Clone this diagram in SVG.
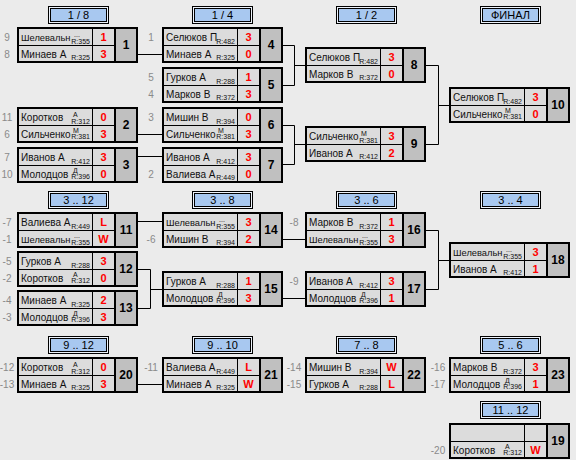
<svg xmlns="http://www.w3.org/2000/svg" width="576" height="460" viewBox="0 0 576 460">
<style>
text{font-family:"Liberation Sans",Arial,sans-serif}
.ob{fill:#000}
.nc{fill:#dcdcdc}
.nb{fill:#c0c0c0}
.nm{font-size:10px;fill:#101010}
.nm2{font-size:9.3px;fill:#101010}
.sm{font-size:7px;fill:#101010}
.rt{font-size:7px;fill:#101010;text-anchor:end}
.scr{font-size:11px;font-weight:bold;fill:#ff0000;text-anchor:middle}
.num{font-size:12px;font-weight:bold;fill:#000;text-anchor:middle}
.sd{font-size:10px;fill:#8a8a8a;text-anchor:middle}
.ho{fill:#eef3fb;stroke:#000;stroke-width:1}
.hi{fill:#a8c8f0;stroke:#000;stroke-width:1}
.ht{font-size:11px;fill:#000;text-anchor:middle}
</style>
<defs>
<g id="box">
<rect class="ob" width="121" height="36"/>
<rect class="nc" x="2" y="2" width="73" height="16"/>
<rect class="nc" x="76" y="2" width="21" height="16"/>
<rect class="nc" x="2" y="19" width="73" height="15"/>
<rect class="nc" x="76" y="19" width="21" height="15"/>
<rect class="nb" x="99" y="2" width="20" height="32"/>
</g>
<g id="hdr">
<rect class="ho" x="0.5" y="0.5" width="60" height="17"/>
<rect class="hi" x="2.5" y="2.5" width="56" height="13"/>
</g>
</defs>
<rect width="576" height="460" fill="#ebebeb"/>

<g id="headers">
<g transform="translate(48,6)"><use href="#hdr"/><text class="ht" x="30.5" y="13">1 / 8</text></g>
<g transform="translate(192,6)"><use href="#hdr"/><text class="ht" x="30.5" y="13">1 / 4</text></g>
<g transform="translate(336,6)"><use href="#hdr"/><text class="ht" x="30.5" y="13">1 / 2</text></g>
<g transform="translate(480,6)"><use href="#hdr"/><text class="ht" x="30.5" y="13">ФИНАЛ</text></g>
<g transform="translate(48,191)"><use href="#hdr"/><text class="ht" x="30.5" y="13">3 .. 12</text></g>
<g transform="translate(192,191)"><use href="#hdr"/><text class="ht" x="30.5" y="13">3 .. 8</text></g>
<g transform="translate(336,191)"><use href="#hdr"/><text class="ht" x="30.5" y="13">3 .. 6</text></g>
<g transform="translate(480,191)"><use href="#hdr"/><text class="ht" x="30.5" y="13">3 .. 4</text></g>
<g transform="translate(48,336)"><use href="#hdr"/><text class="ht" x="30.5" y="13">9 .. 12</text></g>
<g transform="translate(192,336)"><use href="#hdr"/><text class="ht" x="30.5" y="13">9 .. 10</text></g>
<g transform="translate(336,336)"><use href="#hdr"/><text class="ht" x="30.5" y="13">7 .. 8</text></g>
<g transform="translate(480,336)"><use href="#hdr"/><text class="ht" x="30.5" y="13">5 .. 6</text></g>
<g transform="translate(480,401)"><use href="#hdr"/><text class="ht" x="30.5" y="13">11 .. 12</text></g>
</g>

<g id="connectors" stroke="#000" stroke-width="1" fill="none">
<path d="M138 54.5H162"/>
<path d="M138 134.5H162"/>
<path d="M138 156.5H162"/>
<path d="M283 45.5H294.5V85.5H283M294.5 65.5H305"/>
<path d="M283 125.5H294.5V164.5H283M294.5 144.5H305"/>
<path d="M426 65.5H438.5V144.5H426M438.5 105.5H449"/>
<path d="M138 221.5H162"/>
<path d="M138 269.5H150.5V308.5H138M150.5 289.5H162"/>
<path d="M283 239.5H305"/>
<path d="M283 298.5H305"/>
<path d="M426 230.5H438.5V289.5H426M438.5 260.5H449"/>
<path d="M138 384.5H162"/>
</g>

<g id="m1" transform="translate(17,27)"><use href="#box"/>
<text class="sd" x="-10" y="13.5">9</text><text class="sd" x="-10" y="30.5">8</text>
<text class="nm2" x="4" y="14">Шелевальн</text><text class="sm" x="57" y="9.5">...</text><text class="rt" x="73" y="16.5">R:355</text><text class="scr" x="86.5" y="14">1</text>
<text class="nm" x="4" y="31">Минаев А</text><text class="rt" x="73" y="33">R:325</text><text class="scr" x="86.5" y="31">3</text>
<text class="num" x="109" y="22">1</text></g>

<g id="m2" transform="translate(17,107)"><use href="#box"/>
<text class="sd" x="-10" y="13.5">11</text><text class="sd" x="-10" y="30.5">6</text>
<text class="nm" x="4" y="14">Коротков</text><text class="sm" x="56" y="10">А</text><text class="rt" x="73" y="16.5">R:312</text><text class="scr" x="86.5" y="14">0</text>
<text class="nm" x="4" y="31">Сильченко</text><text class="sm" x="56" y="26">М</text><text class="rt" x="73" y="32">R:381</text><text class="scr" x="86.5" y="31">3</text>
<text class="num" x="109" y="22">2</text></g>

<g id="m3" transform="translate(17,147)"><use href="#box"/>
<text class="sd" x="-10" y="13.5">7</text><text class="sd" x="-10" y="30.5">10</text>
<text class="nm" x="4" y="14">Иванов А</text><text class="rt" x="73" y="16.5">R:412</text><text class="scr" x="86.5" y="14">3</text>
<text class="nm" x="4" y="31">Молодцов</text><text class="sm" x="56" y="26">Д</text><text class="rt" x="73" y="32">R:396</text><text class="scr" x="86.5" y="31">0</text>
<text class="num" x="109" y="22">3</text></g>

<g id="m4" transform="translate(162,27)"><use href="#box"/>
<text class="sd" x="-11" y="13.5">1</text>
<text class="nm" x="4" y="14">Селюков П</text><text class="rt" x="73" y="16.5">R:482</text><text class="scr" x="86.5" y="14">3</text>
<text class="nm" x="4" y="31">Минаев А</text><text class="rt" x="73" y="33">R:325</text><text class="scr" x="86.5" y="31">0</text>
<text class="num" x="109" y="22">4</text></g>

<g id="m5" transform="translate(162,67)"><use href="#box"/>
<text class="sd" x="-11" y="13.5">5</text><text class="sd" x="-11" y="30.5">4</text>
<text class="nm" x="4" y="14">Гурков А</text><text class="rt" x="73" y="16.5">R:288</text><text class="scr" x="86.5" y="14">1</text>
<text class="nm" x="4" y="31">Марков В</text><text class="rt" x="73" y="33">R:372</text><text class="scr" x="86.5" y="31">3</text>
<text class="num" x="109" y="22">5</text></g>

<g id="m6" transform="translate(162,107)"><use href="#box"/>
<text class="sd" x="-11" y="13.5">3</text>
<text class="nm" x="4" y="14">Мишин В</text><text class="rt" x="73" y="16.5">R:394</text><text class="scr" x="86.5" y="14">0</text>
<text class="nm" x="4" y="31">Сильченко</text><text class="sm" x="56" y="26">М</text><text class="rt" x="73" y="32">R:381</text><text class="scr" x="86.5" y="31">3</text>
<text class="num" x="109" y="22">6</text></g>

<g id="m7" transform="translate(162,147)"><use href="#box"/>
<text class="sd" x="-11" y="30.5">2</text>
<text class="nm" x="4" y="14">Иванов А</text><text class="rt" x="73" y="16.5">R:412</text><text class="scr" x="86.5" y="14">3</text>
<text class="nm" x="4" y="31">Валиева А</text><text class="rt" x="73" y="33">R:449</text><text class="scr" x="86.5" y="31">0</text>
<text class="num" x="109" y="22">7</text></g>

<g id="m8" transform="translate(305,47)"><use href="#box"/>
<text class="nm" x="4" y="14">Селюков П</text><text class="rt" x="73" y="16.5">R:482</text><text class="scr" x="86.5" y="14">3</text>
<text class="nm" x="4" y="31">Марков В</text><text class="rt" x="73" y="33">R:372</text><text class="scr" x="86.5" y="31">0</text>
<text class="num" x="109" y="22">8</text></g>

<g id="m9" transform="translate(305,126)"><use href="#box"/>
<text class="nm" x="4" y="14">Сильченко</text><text class="sm" x="56" y="10">М</text><text class="rt" x="73" y="16.5">R:381</text><text class="scr" x="86.5" y="14">3</text>
<text class="nm" x="4" y="31">Иванов А</text><text class="rt" x="73" y="33">R:412</text><text class="scr" x="86.5" y="31">2</text>
<text class="num" x="109" y="22">9</text></g>

<g id="m10" transform="translate(449,87)"><use href="#box"/>
<text class="nm" x="4" y="14">Селюков П</text><text class="rt" x="73" y="16.5">R:482</text><text class="scr" x="86.5" y="14">3</text>
<text class="nm" x="4" y="31">Сильченко</text><text class="sm" x="56" y="26">М</text><text class="rt" x="73" y="32">R:381</text><text class="scr" x="86.5" y="31">0</text>
<text class="num" x="109" y="22">10</text></g>

<g id="m11" transform="translate(17,212)"><use href="#box"/>
<text class="sd" x="-10" y="13.5">-7</text><text class="sd" x="-10" y="30.5">-1</text>
<text class="nm" x="4" y="14">Валиева А</text><text class="rt" x="73" y="16.5">R:449</text><text class="scr" x="86.5" y="14">L</text>
<text class="nm2" x="4" y="31">Шелевальн</text><text class="sm" x="57" y="25.5">...</text><text class="rt" x="73" y="33">R:355</text><text class="scr" x="86.5" y="31">W</text>
<text class="num" x="109" y="22">11</text></g>

<g id="m12" transform="translate(17,251)"><use href="#box"/>
<text class="sd" x="-10" y="13.5">-5</text><text class="sd" x="-10" y="30.5">-2</text>
<text class="nm" x="4" y="14">Гурков А</text><text class="rt" x="73" y="16.5">R:288</text><text class="scr" x="86.5" y="14">3</text>
<text class="nm" x="4" y="31">Коротков</text><text class="sm" x="56" y="26">А</text><text class="rt" x="73" y="32">R:312</text><text class="scr" x="86.5" y="31">0</text>
<text class="num" x="109" y="22">12</text></g>

<g id="m13" transform="translate(17,290)"><use href="#box"/>
<text class="sd" x="-10" y="13.5">-4</text><text class="sd" x="-10" y="30.5">-3</text>
<text class="nm" x="4" y="14">Минаев А</text><text class="rt" x="73" y="16.5">R:325</text><text class="scr" x="86.5" y="14">2</text>
<text class="nm" x="4" y="31">Молодцов</text><text class="sm" x="56" y="26">Д</text><text class="rt" x="73" y="32">R:396</text><text class="scr" x="86.5" y="31">3</text>
<text class="num" x="109" y="22">13</text></g>

<g id="m14" transform="translate(162,212)"><use href="#box"/>
<text class="sd" x="-11" y="30.5">-6</text>
<text class="nm2" x="4" y="14">Шелевальн</text><text class="sm" x="57" y="9.5">...</text><text class="rt" x="73" y="16.5">R:355</text><text class="scr" x="86.5" y="14">3</text>
<text class="nm" x="4" y="31">Мишин В</text><text class="rt" x="73" y="33">R:394</text><text class="scr" x="86.5" y="31">2</text>
<text class="num" x="109" y="22">14</text></g>

<g id="m15" transform="translate(162,271)"><use href="#box"/>
<text class="nm" x="4" y="14">Гурков А</text><text class="rt" x="73" y="16.5">R:288</text><text class="scr" x="86.5" y="14">1</text>
<text class="nm" x="4" y="31">Молодцов</text><text class="sm" x="56" y="26">Д</text><text class="rt" x="73" y="32">R:396</text><text class="scr" x="86.5" y="31">3</text>
<text class="num" x="109" y="22">15</text></g>

<g id="m16" transform="translate(305,212)"><use href="#box"/>
<text class="sd" x="-11" y="13.5">-8</text>
<text class="nm" x="4" y="14">Марков В</text><text class="rt" x="73" y="16.5">R:372</text><text class="scr" x="86.5" y="14">1</text>
<text class="nm2" x="4" y="31">Шелевальн</text><text class="sm" x="57" y="25.5">...</text><text class="rt" x="73" y="33">R:355</text><text class="scr" x="86.5" y="31">3</text>
<text class="num" x="109" y="22">16</text></g>

<g id="m17" transform="translate(305,271)"><use href="#box"/>
<text class="sd" x="-11" y="13.5">-9</text>
<text class="nm" x="4" y="14">Иванов А</text><text class="rt" x="73" y="16.5">R:412</text><text class="scr" x="86.5" y="14">3</text>
<text class="nm" x="4" y="31">Молодцов</text><text class="sm" x="56" y="26">Д</text><text class="rt" x="73" y="32">R:396</text><text class="scr" x="86.5" y="31">1</text>
<text class="num" x="109" y="22">17</text></g>

<g id="m18" transform="translate(449,242)"><use href="#box"/>
<text class="nm2" x="4" y="14">Шелевальн</text><text class="sm" x="57" y="9.5">...</text><text class="rt" x="73" y="16.5">R:355</text><text class="scr" x="86.5" y="14">3</text>
<text class="nm" x="4" y="31">Иванов А</text><text class="rt" x="73" y="33">R:412</text><text class="scr" x="86.5" y="31">1</text>
<text class="num" x="109" y="22">18</text></g>

<g id="m20" transform="translate(17,357)"><use href="#box"/>
<text class="sd" x="-10" y="13.5">-12</text><text class="sd" x="-10" y="30.5">-13</text>
<text class="nm" x="4" y="14">Коротков</text><text class="sm" x="56" y="10">А</text><text class="rt" x="73" y="16.5">R:312</text><text class="scr" x="86.5" y="14">0</text>
<text class="nm" x="4" y="31">Минаев А</text><text class="rt" x="73" y="33">R:325</text><text class="scr" x="86.5" y="31">3</text>
<text class="num" x="109" y="22">20</text></g>

<g id="m21" transform="translate(162,357)"><use href="#box"/>
<text class="sd" x="-11" y="13.5">-11</text>
<text class="nm" x="4" y="14">Валиева А</text><text class="rt" x="73" y="16.5">R:449</text><text class="scr" x="86.5" y="14">L</text>
<text class="nm" x="4" y="31">Минаев А</text><text class="rt" x="73" y="33">R:325</text><text class="scr" x="86.5" y="31">W</text>
<text class="num" x="109" y="22">21</text></g>

<g id="m22" transform="translate(305,357)"><use href="#box"/>
<text class="sd" x="-11" y="13.5">-14</text><text class="sd" x="-11" y="30.5">-15</text>
<text class="nm" x="4" y="14">Мишин В</text><text class="rt" x="73" y="16.5">R:394</text><text class="scr" x="86.5" y="14">W</text>
<text class="nm" x="4" y="31">Гурков А</text><text class="rt" x="73" y="33">R:288</text><text class="scr" x="86.5" y="31">L</text>
<text class="num" x="109" y="22">22</text></g>

<g id="m23" transform="translate(449,357)"><use href="#box"/>
<text class="sd" x="-11" y="13.5">-16</text><text class="sd" x="-11" y="30.5">-17</text>
<text class="nm" x="4" y="14">Марков В</text><text class="rt" x="73" y="16.5">R:372</text><text class="scr" x="86.5" y="14">3</text>
<text class="nm" x="4" y="31">Молодцов</text><text class="sm" x="56" y="26">Д</text><text class="rt" x="73" y="32">R:396</text><text class="scr" x="86.5" y="31">1</text>
<text class="num" x="109" y="22">23</text></g>

<g id="m19" transform="translate(449,423)"><use href="#box"/>
<text class="sd" x="-11" y="30.5">-20</text>
<text class="nm" x="4" y="31">Коротков</text><text class="sm" x="56" y="26">А</text><text class="rt" x="73" y="32">R:312</text><text class="scr" x="86.5" y="31">W</text>
<text class="num" x="109" y="22">19</text></g>
</svg>
